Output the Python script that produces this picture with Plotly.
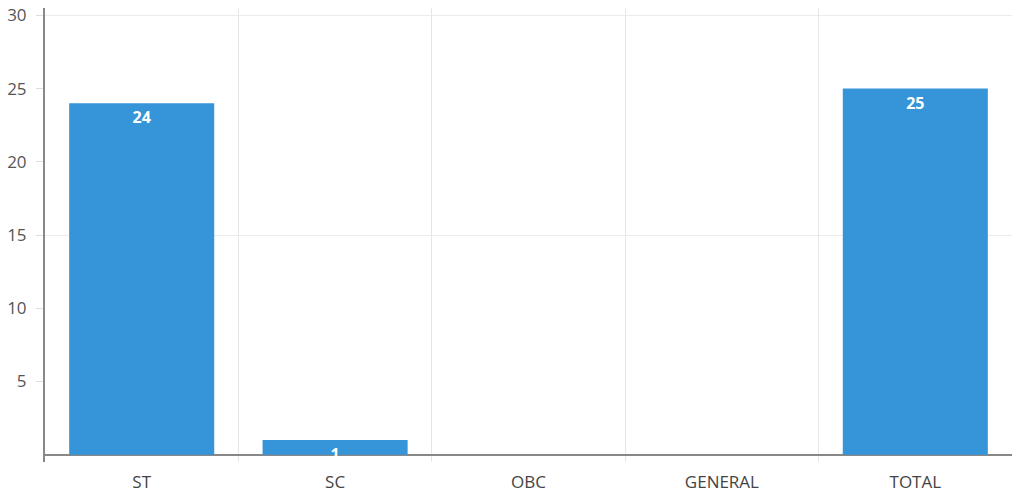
import plotly.graph_objects as go

categories = ["ST", "SC", "OBC", "GENERAL", "TOTAL"]
values = [24, 1, 0, 0, 25]
y_ticks = [5, 10, 15, 20, 25, 30]

labels = [f"<b>{v}</b>" if v else "" for v in values]

fig = go.Figure(go.Bar(
    x=categories, y=values, text=labels,
    textposition="inside", insidetextanchor="end", textangle=0,
    textfont=dict(color="white", size=16, family="Open Sans"),
    marker=dict(color="#3595d8", line=dict(width=0)),
    constraintext="none", cliponaxis=True,
))

fig.update_layout(
    width=1013, height=495,
    margin=dict(l=45, r=1, t=8, b=33),
    plot_bgcolor="white", paper_bgcolor="white",
    bargap=0.25, showlegend=False,
    font=dict(family="Open Sans", color="#444", size=16),
    uniformtext=dict(mode=False),
)
fig.update_xaxes(
    type="category", tickson="boundaries", showgrid=True,
    gridcolor="#e6e6e6", gridwidth=1, ticks="", showline=False,
    tickfont=dict(size=17, color="#444"), ticklabelstandoff=8,
)
fig.update_yaxes(
    range=[-0.5, 30.5], tickvals=y_ticks, showgrid=False,
    showline=True, linecolor="#888", linewidth=2,
    ticks="outside", ticklen=7, tickcolor="#ddd",
    zeroline=True, zerolinecolor="#888", zerolinewidth=2,
    tickfont=dict(size=17, color="#555"), ticklabelstandoff=6,
    minor=dict(tickvals=[15, 30], showgrid=True, gridcolor="#ebebeb", gridwidth=1, ticks=""),
)

fig.write_html("out.html")
